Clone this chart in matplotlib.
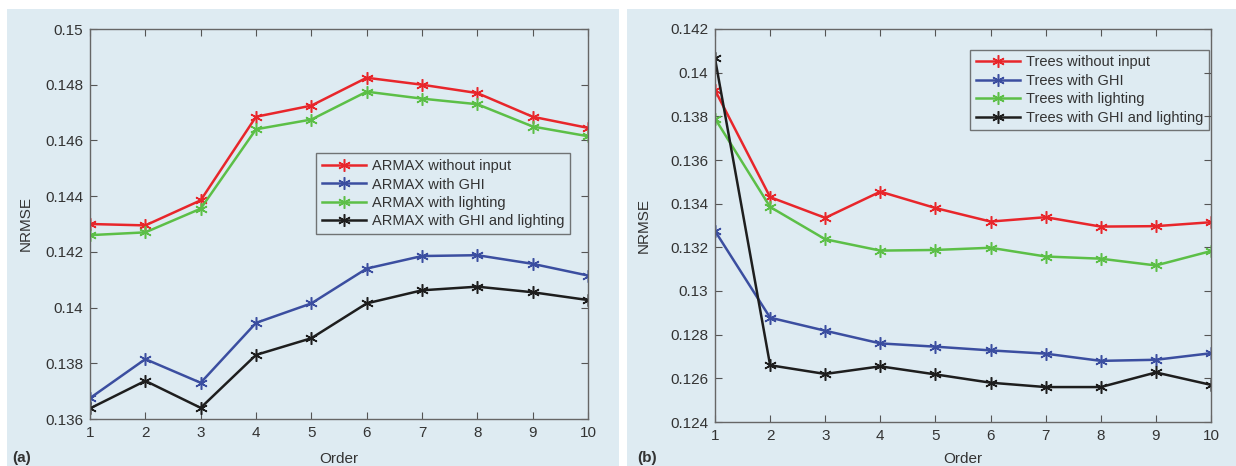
import matplotlib
matplotlib.use("Agg")
import matplotlib.pyplot as plt
from matplotlib.patches import Rectangle
import numpy as np

plt.rcParams['font.family'] = ['Liberation Sans Narrow', 'Liberation Sans', 'DejaVu Sans']

order = np.arange(1, 11)

# panel (a): ARMAX models
armax_no_input = [0.1430, 0.14295, 0.14385, 0.14685, 0.14725, 0.14825, 0.1480, 0.1477, 0.14685, 0.14645]
armax_ghi = [0.13675, 0.13815, 0.1373, 0.13945, 0.14015, 0.1414, 0.14185, 0.14188, 0.14157, 0.14115]
armax_lighting = [0.1426, 0.1427, 0.14355, 0.1464, 0.14675, 0.14775, 0.1475, 0.1473, 0.1465, 0.14615]
armax_ghi_lighting = [0.13638, 0.13737, 0.1364, 0.1383, 0.1389, 0.14015, 0.14062, 0.14075, 0.14055, 0.14027]

# panel (b): tree models
trees_no_input = [0.1392, 0.1343, 0.13335, 0.13455, 0.1338, 0.13318, 0.13338, 0.13295, 0.13297, 0.13315]
trees_ghi = [0.13275, 0.12878, 0.12818, 0.1276, 0.12745, 0.12728, 0.12713, 0.1268, 0.12685, 0.12715]
trees_lighting = [0.1379, 0.13385, 0.13237, 0.13185, 0.13188, 0.13198, 0.13158, 0.13148, 0.13117, 0.13183]
trees_ghi_lighting = [0.14065, 0.1266, 0.1262, 0.12655, 0.12618, 0.1258, 0.1256, 0.1256, 0.12627, 0.1257]

colors = ['#e8262b', '#3b4ea0', '#5cbf47', '#1e1e1e']
bg = '#deebf2'
text_col = '#333333'
fs = 10.5

fig = plt.figure(figsize=(12.36, 4.66), dpi=100)
W, H = 1236, 466
# light-blue panels behind each chart
fig.patches.append(Rectangle((7 / W, 0), (619 - 7) / W, 1 - 9 / H, transform=fig.transFigure,
                             facecolor=bg, edgecolor='none', zorder=-10))
fig.patches.append(Rectangle((627 / W, 0), (W - 627) / W, 1 - 9 / H, transform=fig.transFigure,
                             facecolor=bg, edgecolor='none', zorder=-10))


def make_axes(box, series, labels, ylim, yticks, ylabels, leg_anchor, tag, ylab_x):
    x0, y0, x1, y1 = box
    ax = fig.add_axes([x0 / W, 1 - y1 / H, (x1 - x0) / W, (y1 - y0) / H])
    ax.set_facecolor('none')
    for vals, lab, c in zip(series, labels, colors):
        ax.plot(order, vals, color=c, lw=1.8, marker=(6, 2, 0), markersize=9,
                markeredgewidth=1.1, label=lab)
    ax.set_xlim(1, 10)
    ax.set_ylim(*ylim)
    ax.set_xticks(order)
    ax.set_yticks(yticks)
    ax.set_yticklabels(ylabels)
    ax.tick_params(direction='in', top=True, right=True, length=5, width=0.8,
                   colors='#555555', labelcolor=text_col, labelsize=fs + 0.5, pad=5)
    for s in ax.spines.values():
        s.set_color('#666666')
        s.set_linewidth(1.0)
    ax.set_xlabel('Order', fontsize=fs + 0.5, color=text_col)
    ax.xaxis.set_label_coords(0.5, -(452 - y1) / (y1 - y0))
    ax.set_ylabel('NRMSE', fontsize=fs + 0.5, color=text_col)
    ax.yaxis.set_label_coords((ylab_x - x0) / (x1 - x0), 0.5)
    leg = ax.legend(loc='upper left', bbox_to_anchor=leg_anchor, fontsize=fs,
                    frameon=True, fancybox=False, handlelength=3.0,
                    labelspacing=0.3, borderpad=0.4, handletextpad=0.4)
    leg.get_frame().set_edgecolor('#555555')
    leg.get_frame().set_facecolor('none')
    leg.get_frame().set_linewidth(1.0)
    for t in leg.get_texts():
        t.set_color(text_col)
    fig.text((x0 - 78) / W, 1 - 458 / H, tag, fontsize=fs + 0.5, fontweight='bold',
             color=text_col, va='center')
    return ax


make_axes((90, 29, 588, 419),
          [armax_no_input, armax_ghi, armax_lighting, armax_ghi_lighting],
          ['ARMAX without input', 'ARMAX with GHI', 'ARMAX with lighting',
           'ARMAX with GHI and lighting'],
          (0.136, 0.150), np.arange(0.136, 0.1501, 0.002),
          ['0.136', '0.138', '0.14', '0.142', '0.144', '0.146', '0.148', '0.15'],
          (0.44, 0.70), '(a)', 33)

make_axes((715, 29, 1211, 422),
          [trees_no_input, trees_ghi, trees_lighting, trees_ghi_lighting],
          ['Trees without input', 'Trees with GHI', 'Trees with lighting',
           'Trees with GHI and lighting'],
          (0.124, 0.142), np.arange(0.124, 0.1421, 0.002),
          ['0.124', '0.126', '0.128', '0.13', '0.132', '0.134', '0.136', '0.138', '0.14', '0.142'],
          (0.50, 0.966), '(b)', 651)

fig.savefig('out.png', dpi=100, facecolor='white')
